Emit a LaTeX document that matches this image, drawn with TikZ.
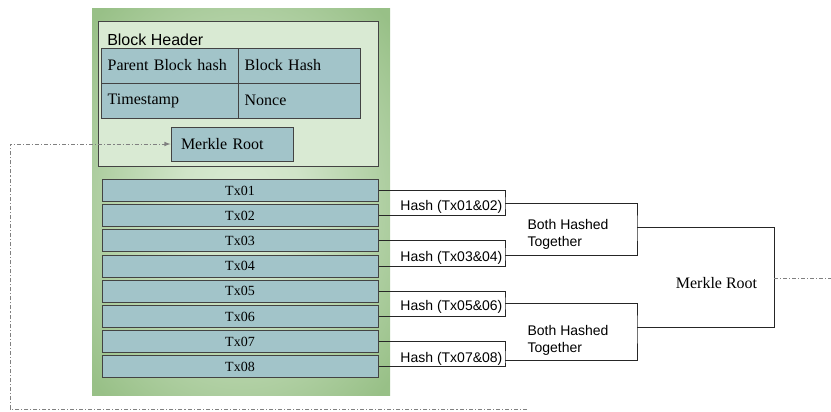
\documentclass[tikz,border=0pt]{standalone}
\usepackage{fontspec}
\setmainfont{Liberation Serif}
\setsansfont{Liberation Sans}
\definecolor{blockgreen}{HTML}{98C087}
\definecolor{blocklight}{HTML}{D9EAD3}
\definecolor{cellteal}{HTML}{A2C4C9}
\definecolor{edgegray}{HTML}{434343}
\pgfdeclareradialshading{blockshade}{\pgfpoint{0bp}{0bp}}{color(0bp)=(blocklight); color(10bp)=(blocklight!85!blockgreen); color(34bp)=(blockgreen); color(50bp)=(blockgreen)}
\begin{document}
\begin{tikzpicture}[x=0.75pt, y=-0.75pt, >=latex,
    cell/.style={draw=edgegray, fill=cellteal, line width=0.75pt, font=\fontsize{12}{14}\selectfont, align=left, inner xsep=5pt, minimum height=26.25pt},
    txbox/.style={draw=edgegray, fill=cellteal, line width=0.75pt, font=\fontsize{10.5}{12}\selectfont, minimum width=207pt, minimum height=16.5pt, inner sep=0pt},
    hashlabel/.style={font=\sffamily\fontsize{10.5}{12.6}\selectfont, inner sep=1pt},
    link/.style={draw=black!85, line width=0.75pt},
    chain/.style={draw=gray, line width=0.6pt, dash pattern=on 3pt off 1.5pt on 0.8pt off 1.5pt}]
        \useasboundingbox (0,0) rectangle (831,411);

        % Block
        \node[shading=blockshade, minimum width=223.5pt, minimum height=290.25pt, inner sep=0pt] (block) at (241, 201.5) {};
        \node[draw=edgegray, fill=blocklight, line width=0.75pt, minimum width=210pt, minimum height=108.75pt, inner sep=0pt] (header) at (238, 93.5) {};
        \node[anchor=base west, font=\sffamily\fontsize{12}{14}\selectfont, inner sep=0pt] (headertitle) at (107, 45) {Block Header};

        % Header fields
        \node[cell, text width=92.75pt] (parent) at (169.5, 65.5) {Parent Block hash};
        \node[cell, text width=81.5pt] (hash) at (299, 65.5) {Block Hash};
        \node[cell, text width=92.75pt] (time) at (169.5, 100.5) {Timestamp};
        \node[cell, text width=81.5pt] (nonce) at (299, 100.5) {Nonce};
        \node[cell, inner xsep=7.5pt, text width=76.5pt, minimum height=25.5pt] (mroot) at (232, 144) {Merkle Root};

        % Transactions
        \foreach \i in {1,...,8}
            \node[txbox] (tx\i) at (240, {190.5+(\i-1)*25.2}) {Tx0\i};

        % Tree points
        \coordinate (h12) at (505, 203.5);
        \coordinate (h34) at (505, 255);
        \coordinate (h56) at (505, 303);
        \coordinate (h78) at (505, 360);
        \coordinate (b1) at (637, 227);
        \coordinate (b2) at (637, 327);
        \coordinate (root) at (774, 278);
        \coordinate (exit) at (831, 278);
        \coordinate (back) at (527, 409);
        \coordinate (corner) at (10, 144);

        % Brackets
        \draw[link] (tx1.east) -| (h12) |- (tx2.east);
        \draw[link] (tx3.east) -| (h34) |- (tx4.east);
        \draw[link] (tx5.east) -| (h56) |- (tx6.east);
        \draw[link] (tx7.east) -| (h78) |- (tx8.east);
        \draw[link] (h12) -| (b1) |- (h34);
        \draw[link] (h56) -| (b2) |- (h78);
        \draw[link] (b1) -| (root) |- (b2);

        % Labels
        \node[hashlabel, anchor=east] (l12) at (504, 207) {Hash (Tx01\&02)};
        \node[hashlabel, anchor=east] (l34) at (504, 258) {Hash (Tx03\&04)};
        \node[hashlabel, anchor=east] (l56) at (504, 307) {Hash (Tx05\&06)};
        \node[hashlabel, anchor=east] (l78) at (504, 359) {Hash (Tx07\&08)};
        \node[hashlabel, anchor=west, align=left] (both1) at (526, 234) {Both Hashed\\Together};
        \node[hashlabel, anchor=west, align=left] (both2) at (526, 340) {Both Hashed\\Together};
        \node[font=\fontsize{12}{14}\selectfont] (rootlabel) at (716.5, 283) {Merkle Root};

        % Root back into header
        \draw[chain] (root) -- (exit);
        \draw[chain, ->] (back) -| (corner) -- (mroot.west);
    \end{tikzpicture}
\end{document}
